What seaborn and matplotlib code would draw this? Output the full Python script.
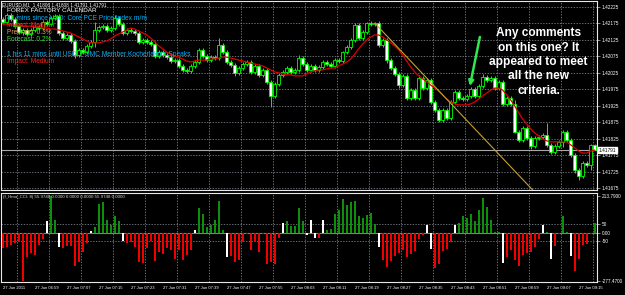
import matplotlib
matplotlib.use("Agg")
import matplotlib.pyplot as plt
import matplotlib.transforms as mtransforms
import numpy as np
import pandas as pd
import seaborn as sns

sns.set_style("dark", {"axes.facecolor": "black", "figure.facecolor": "black"})
plt.rcParams['font.family'] = ['Liberation Sans', 'DejaVu Sans']

# ---------------- data ----------------
header_text = "EURUSD,M1  1.41806 1.41808 1.41791 1.41791"

opens = [
    1.42188, 1.42179, 1.42201, 1.42188, 1.42167, 1.42149, 1.42155, 1.42143, 1.42155, 1.42164,
    1.42161, 1.42179, 1.42173, 1.42191, 1.42198, 1.42146, 1.42131, 1.42140, 1.42122, 1.42079,
    1.42095, 1.42088, 1.42107, 1.42119, 1.42155, 1.42164, 1.42167, 1.42155, 1.42161, 1.42191,
    1.42173, 1.42146, 1.42155, 1.42152, 1.42146, 1.42119, 1.42125, 1.42119, 1.42113, 1.42076,
    1.42088, 1.42079, 1.42073, 1.42061, 1.42064, 1.42046, 1.42034, 1.42031, 1.42046, 1.42058,
    1.42095, 1.42076, 1.42064, 1.42073, 1.42070, 1.42110, 1.42088, 1.42058, 1.42049, 1.42025,
    1.42040, 1.42052, 1.42058, 1.42028, 1.42046, 1.42019, 1.42034, 1.41998, 1.41955, 1.41991,
    1.42019, 1.42028, 1.42040, 1.42028, 1.42034, 1.42070, 1.42052, 1.42034, 1.42046, 1.42034,
    1.42043, 1.42058, 1.42052, 1.42046, 1.42064, 1.42061, 1.42088, 1.42104, 1.42125, 1.42170,
    1.42131, 1.42149, 1.42176, 1.42173, 1.42176, 1.42110, 1.42125, 1.42064, 1.42040, 1.42022,
    1.41988, 1.42016, 1.41949, 1.41973, 1.41949, 1.42010, 1.41979, 1.42004, 1.41937, 1.41913,
    1.41882, 1.41913, 1.41888, 1.41937, 1.41967, 1.41949, 1.41946, 1.41955, 1.41976, 1.41955,
    1.41985, 1.42013, 1.42004, 1.42010, 1.41979, 1.41998, 1.41931, 1.41949, 1.41931, 1.41846,
    1.41822, 1.41858, 1.41828, 1.41804, 1.41828, 1.41831, 1.41837, 1.41807, 1.41785, 1.41804,
    1.41816, 1.41846, 1.41822, 1.41776, 1.41731, 1.41713, 1.41752, 1.41746, 1.41806,
]

closes = [
    1.42179, 1.42201, 1.42188, 1.42167, 1.42149, 1.42155, 1.42143, 1.42155, 1.42164, 1.42161,
    1.42179, 1.42173, 1.42191, 1.42198, 1.42146, 1.42131, 1.42140, 1.42122, 1.42079, 1.42095,
    1.42088, 1.42107, 1.42119, 1.42155, 1.42164, 1.42167, 1.42155, 1.42161, 1.42191, 1.42173,
    1.42146, 1.42155, 1.42152, 1.42146, 1.42119, 1.42125, 1.42119, 1.42113, 1.42076, 1.42088,
    1.42079, 1.42073, 1.42061, 1.42064, 1.42046, 1.42034, 1.42031, 1.42046, 1.42058, 1.42095,
    1.42076, 1.42064, 1.42073, 1.42070, 1.42110, 1.42088, 1.42058, 1.42049, 1.42025, 1.42040,
    1.42052, 1.42058, 1.42028, 1.42046, 1.42019, 1.42034, 1.41998, 1.41955, 1.41991, 1.42019,
    1.42028, 1.42040, 1.42028, 1.42034, 1.42070, 1.42052, 1.42034, 1.42046, 1.42034, 1.42043,
    1.42058, 1.42052, 1.42046, 1.42064, 1.42061, 1.42088, 1.42104, 1.42125, 1.42170, 1.42131,
    1.42149, 1.42176, 1.42173, 1.42176, 1.42110, 1.42125, 1.42064, 1.42040, 1.42022, 1.41988,
    1.42016, 1.41949, 1.41973, 1.41949, 1.42010, 1.41979, 1.42004, 1.41937, 1.41913, 1.41882,
    1.41913, 1.41888, 1.41937, 1.41967, 1.41949, 1.41946, 1.41955, 1.41976, 1.41955, 1.41985,
    1.42013, 1.42004, 1.42010, 1.41979, 1.41998, 1.41931, 1.41949, 1.41931, 1.41846, 1.41822,
    1.41858, 1.41828, 1.41804, 1.41828, 1.41831, 1.41837, 1.41807, 1.41785, 1.41804, 1.41816,
    1.41846, 1.41822, 1.41776, 1.41731, 1.41713, 1.41752, 1.41746, 1.41806, 1.41791,
]

# upper / lower shadow lengths in points (1e-5)
wick_hi = [
    6, 6, 6, 6, 6, 6, 6, 6, 6, 6,
    6, 6, 6, 6, 6, 6, 6, 6, 6, 6,
    6, 6, 6, 24, 6, 6, 6, 6, 10, 6,
    6, 6, 6, 6, 6, 6, 6, 6, 9, 6,
    6, 6, 6, 6, 6, 6, 6, 6, 6, 6,
    6, 6, 6, 6, 21, 6, 6, 6, 6, 6,
    6, 6, 6, 6, 6, 6, 6, 6, 6, 6,
    6, 6, 6, 6, 9, 6, 6, 6, 6, 6,
    6, 6, 6, 6, 6, 3, 6, 6, 6, 6,
    6, 3, 6, 3, 6, 6, 6, 6, 6, 6,
    6, 6, 6, 6, 9, 6, 6, 6, 6, 6,
    6, 6, 6, 6, 6, 6, 6, 6, 6, 6,
    9, 6, 6, 6, 6, 6, 6, 6, 12, 6,
    6, 6, 6, 6, 6, 6, 36, 6, 6, 6,
    6, 6, 6, 6, 6, 6, 6, 3, 2,
]
wick_lo = [
    6, 6, 6, 6, 6, 9, 6, 6, 6, 6,
    6, 6, 6, 6, 6, 6, 6, 6, 9, 6,
    6, 6, 6, 15, 6, 6, 6, 6, 6, 6,
    6, 6, 6, 6, 6, 6, 6, 6, 6, 6,
    6, 6, 6, 6, 6, 6, 6, 6, 6, 6,
    6, 6, 6, 6, 6, 6, 6, 6, 9, 6,
    6, 6, 6, 6, 6, 6, 6, 33, 6, 6,
    6, 6, 6, 6, 6, 6, 6, 6, 6, 6,
    6, 6, 6, 6, 6, 6, 6, 6, 6, 6,
    6, 6, 6, 6, 6, 6, 9, 6, 6, 9,
    6, 6, 6, 6, 6, 6, 6, 6, 6, 6,
    6, 6, 6, 6, 6, 6, 6, 6, 6, 6,
    6, 6, 6, 6, 6, 6, 6, 6, 3, 6,
    6, 6, 9, 6, 6, 6, 6, 6, 6, 6,
    15, 6, 6, 9, 12, 6, 6, 15, 0,
]

ma_values = [
    1.42173, 1.42173, 1.42170, 1.42170, 1.42170, 1.42167, 1.42167, 1.42167, 1.42164, 1.42164,
    1.42161, 1.42161, 1.42158, 1.42158, 1.42155, 1.42152, 1.42149, 1.42146, 1.42140, 1.42134,
    1.42128, 1.42122, 1.42116, 1.42116, 1.42116, 1.42119, 1.42122, 1.42128, 1.42137, 1.42143,
    1.42149, 1.42155, 1.42161, 1.42158, 1.42152, 1.42146, 1.42140, 1.42131, 1.42119, 1.42107,
    1.42098, 1.42088, 1.42082, 1.42076, 1.42073, 1.42067, 1.42061, 1.42058, 1.42061, 1.42064,
    1.42064, 1.42064, 1.42067, 1.42067, 1.42070, 1.42073, 1.42073, 1.42070, 1.42067, 1.42064,
    1.42061, 1.42058, 1.42055, 1.42052, 1.42049, 1.42046, 1.42040, 1.42034, 1.42028, 1.42025,
    1.42022, 1.42019, 1.42019, 1.42016, 1.42016, 1.42016, 1.42022, 1.42028, 1.42031, 1.42034,
    1.42034, 1.42037, 1.42040, 1.42040, 1.42046, 1.42052, 1.42058, 1.42067, 1.42082, 1.42098,
    1.42113, 1.42125, 1.42134, 1.42140, 1.42140, 1.42134, 1.42125, 1.42116, 1.42107, 1.42095,
    1.42079, 1.42061, 1.42043, 1.42028, 1.42016, 1.42007, 1.41998, 1.41988, 1.41979, 1.41970,
    1.41958, 1.41946, 1.41937, 1.41931, 1.41928, 1.41928, 1.41928, 1.41931, 1.41937, 1.41946,
    1.41955, 1.41964, 1.41973, 1.41979, 1.41979, 1.41973, 1.41958, 1.41943, 1.41925, 1.41904,
    1.41885, 1.41870, 1.41855, 1.41843, 1.41834, 1.41825, 1.41819, 1.41816, 1.41816, 1.41816,
    1.41816, 1.41816, 1.41807, 1.41798, 1.41788, 1.41782, 1.41782, 1.41788, 1.41791,
]

cci_values = [
    -91, -82, -72, -62, -53, -277.47, -143, -120, -130, -72,
    -34, 66, 213.79, 76, -82, -91, -76, -76, -194, -168,
    -110, -62, 9, 34, 168, 178, 76, 43, 97, 68,
    -47, -62, -53, -82, -168, -174, -91, -47, -164, -110,
    -124, -91, -101, -153, -101, -155, -130, -101, 18, 143,
    105, 34, 43, 72, 181, 18, -139, -135, -168, -158,
    -53, -5, -101, -53, -110, -9, -181, -168, -178, -28,
    57, 66, 39, 39, 143, 66, -11, 72, -28, -28,
    76, 14, 20, 110, 130, 193, 158, 178, 181, 95,
    82, 101, 114, 53, -85, -155, -197, -162, -135, -116,
    -101, -139, -124, -107, -34, -11, 47, -95, -201, -183,
    -105, -95, -53, 47, 57, 95, 85, 107, 66, 133,
    203, 149, 72, 5, 5, -172, -139, -101, -158, -193,
    -130, -116, -110, -82, -39, 47, 5, -153, -78, -5,
    95, 5, -135, -220, -149, -72, -68, -5, 55.97,
]
# g = rising bar, r = falling bar, w = bar where the sign flips
cci_kinds = ("rrrrrrrrrrr" "w" "gg" "w" "rrrrrrr" "w" "ggggggg" "w"
             "rrrrrrrrrrrrrrrrr" "w" "ggggggg" "w" "rrrrrrrrrrrrr" "w"
             "ggggg" "www" "r" "w" "ggggggggggggg" "w" "rrrrrrrrrrr" "ww"
             "rrrrr" "w" "ggggggggggg" "w" "rrrrrrrrr" "w" "g" "w" "rr"
             "gg" "w" "rrrrr" "g")

time_labels = ["27 Jun 2011", "27 Jun 06:59", "27 Jun 07:07", "27 Jun 07:15", "27 Jun 07:23",
               "27 Jun 07:31", "27 Jun 07:39", "27 Jun 07:47", "27 Jun 07:55", "27 Jun 08:03",
               "27 Jun 08:11", "27 Jun 08:19", "27 Jun 08:27", "27 Jun 08:35", "27 Jun 08:43",
               "27 Jun 08:51", "27 Jun 08:59", "27 Jun 09:07", "27 Jun 09:15"]
price_ticks = [1.42225, 1.42175, 1.42125, 1.42075, 1.42025, 1.41975,
               1.41925, 1.41875, 1.41825, 1.41775, 1.41725, 1.41675]
cci_ticks = [213.79, 50, 0, -50, -277.47]
cci_tick_labels = ["213.7900", "50", "0.00", "-50", "-277.4700"]
cci_header = "(f_Hma_CCI: 8) 55.9748 0.0000 0.0000 0.0000 55.9748 0.0000"

trend_bars = [93, 140]
trend_prices = [1.42176, 1.41574]
arrow_bars = [119.3, 116.8]
arrow_prices = [1.42134, 1.41985]

calendar_lines = [
    ("FOREX FACTORY CALENDAR", "#ffffff"),
    ("48 mins since USD: Core PCE Price Index m/m", "#00b4ff"),
    ("Impact: Medium", "#ff2020"),
    ("Previous: 0.3%", "#e8a060"),
    ("Forecast: 0.2%", "#33dd33"),
    ("1 hrs 11 mins until USD: FOMC Member Kocherlakota Speaks", "#00b4ff"),
    ("Impact: Medium", "#ff2020"),
]
comment_lines = ["Any comments", "on this one? It", "appeared to meet", "all the new", "criteria."]

# ---------------- layout ----------------
W, H = 625, 295
fig = plt.figure(figsize=(W / 100, H / 100), dpi=100, facecolor="black")


def fx(p):
    return p / W


def fy(p):
    return 1 - p / H


ax1 = fig.add_axes([fx(1), fy(190), fx(597) - fx(1), fy(1) - fy(190)])
ax2 = fig.add_axes([fx(1), fy(282), fx(597) - fx(1), fy(193) - fy(282)])
for ax in (ax1, ax2):
    ax.set_facecolor("black")
    for s in ax.spines.values():
        s.set_color("#e8e8e8")
        s.set_linewidth(0.8)
    ax.set_xlim(-0.43, 148.58)

n = len(closes)
assert len(cci_kinds) == n
idx = np.arange(n)
o = np.array(opens)
c = np.array(closes)
hi = np.maximum(o, c) + np.array(wick_hi) * 1e-5
lo = np.minimum(o, c) - np.array(wick_lo) * 1e-5
df = pd.DataFrame({"bar": idx, "ma": ma_values})

grid_kw = dict(color="#8a94a0", linewidth=0.5, linestyle=(0, (2, 2)))
grid_pos = np.arange(3.6, n, 8)

# ---- price panel ----
ax1.set_ylim(1.41670, 1.42243)
for g in grid_pos:
    ax1.axvline(g, zorder=1, **grid_kw)
for p in price_ticks:
    ax1.axhline(p, zorder=1, **grid_kw)
ax1.axhline(closes[-1], color="#a8a8a8", linewidth=0.8, zorder=2)

ax1.vlines(idx, lo, hi, color="#00ff00", linewidth=0.7, zorder=3)
bull = c >= o
body = np.maximum(np.abs(c - o), 0.6e-5)
ax1.bar(idx, body, bottom=np.minimum(o, c), width=0.7,
        color=np.where(bull, "black", "white"), edgecolor="#00ff00",
        linewidth=0.6, zorder=4)
sns.lineplot(data=df, x="bar", y="ma", ax=ax1, color="#e00000", linewidth=0.9,
             zorder=5, legend=False)
ax1.plot(trend_bars, trend_prices, color="#c8a030", linewidth=0.8, zorder=5)
ax1.annotate("", xy=(arrow_bars[1], arrow_prices[1]), xytext=(arrow_bars[0], arrow_prices[0]),
             arrowprops=dict(arrowstyle="-|>", color="#2ee850", lw=1.8, mutation_scale=7,
                             shrinkA=0, shrinkB=0), zorder=6)

ax1.yaxis.tick_right()
ax1.set_yticks(price_ticks)
ax1.set_yticklabels([f"{p:.5f}" for p in price_ticks], fontsize=3.4, color="white")
ax1.tick_params(axis="y", length=2, width=0.5, color="#c0c0c0", pad=1.5, direction="out")
ax1.tick_params(axis="x", length=0, labelbottom=False)
ax1.set_xlabel("")
ax1.set_ylabel("")
ax1.grid(False)
blend1 = mtransforms.blended_transform_factory(ax1.transAxes, ax1.transData)
ax1.text(1.003, closes[-1], f"{closes[-1]:.5f}", transform=blend1, fontsize=3.4,
         color="black", ha="left", va="center",
         bbox=dict(facecolor="white", edgecolor="white", pad=0.4), zorder=7)

# ---- indicator panel ----
ax2.set_ylim(-284.5, 229)
for g in grid_pos:
    ax2.axvline(g, zorder=1, **grid_kw)
ax2.axhline(50, zorder=1, **grid_kw)
ax2.axhline(-50, zorder=1, **grid_kw)
kind_color = {"g": "#0c900c", "r": "#f00000", "w": "#ffffff"}
ax2.bar(idx, cci_values, width=0.55, color=[kind_color[k] for k in cci_kinds],
        edgecolor="none", linewidth=0, zorder=3)
ax2.axhline(0, color="#86864a", linewidth=0.8, zorder=2)
ax2.yaxis.tick_right()
ax2.set_yticks(cci_ticks)
ax2.set_yticklabels(cci_tick_labels, fontsize=3.4, color="white")
ax2.tick_params(axis="y", length=2, width=0.5, color="#c0c0c0", pad=1.5)
ax2.set_xticks(np.arange(0, n, 8))
ax2.set_xticklabels(time_labels, fontsize=3.0, color="white", ha="left")
ax2.tick_params(axis="x", length=2, width=0.5, color="#c0c0c0", pad=1)
ax2.grid(False)
ax2.text(0.004, 0.975, cci_header, transform=ax2.transAxes, fontsize=3.2,
         color="#d8d8d8", ha="left", va="top", zorder=6)

# ---- overlay texts ----
fig.text(fx(2), fy(4.5), header_text, fontsize=3.4, color="white", ha="left", va="center")
cal_y = [10.5, 18.5, 25.5, 32.5, 39.5, 54, 61.5]
for (txt, col), yy in zip(calendar_lines, cal_y):
    fig.text(fx(7), fy(yy), txt, fontsize=4.8 if yy > 12 else 4.6, color=col,
             ha="left", va="center")
for txt, yy in zip(comment_lines, [33.3, 47.6, 62, 76.3, 90.6]):
    fig.text(fx(538.5), fy(yy), txt, fontsize=8.6, fontweight="bold", color="white",
             ha="center", va="center")

fig.savefig("out.png", dpi=100, facecolor="black")
